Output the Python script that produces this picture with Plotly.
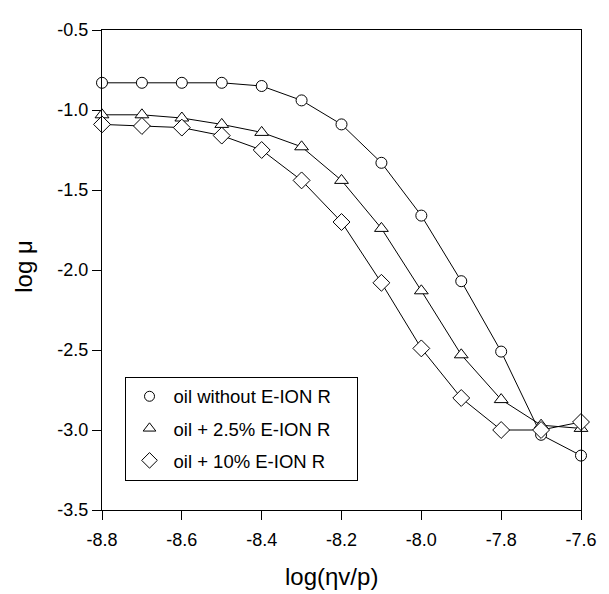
import plotly.graph_objects as go

x_vals = [-8.8, -8.7, -8.6, -8.5, -8.4, -8.3, -8.2, -8.1, -8.0, -7.9, -7.8, -7.7, -7.6]
oil_plain = [-0.83, -0.83, -0.83, -0.83, -0.85, -0.94, -1.09, -1.33, -1.66, -2.07, -2.51, -3.03, -3.16]
oil_25 = [-1.03, -1.03, -1.05, -1.09, -1.14, -1.23, -1.44, -1.74, -2.13, -2.53, -2.81, -2.97, -2.99]
oil_10 = [-1.09, -1.10, -1.11, -1.16, -1.25, -1.44, -1.70, -2.08, -2.49, -2.80, -3.00, -3.00, -2.95]

series_names = ["oil without E-ION R", "oil + 2.5% E-ION R", "oil + 10% E-ION R"]
symbols = ["circle", "triangle-up", "diamond"]

x_ticks = [-8.8, -8.6, -8.4, -8.2, -8.0, -7.8, -7.6]
x_ticklabels = ["-8.8", "-8.6", "-8.4", "-8.2", "-8.0", "-7.8", "-7.6"]
y_ticks = [-3.5, -3.0, -2.5, -2.0, -1.5, -1.0, -0.5]
y_ticklabels = ["-3.5", "-3.0", "-2.5", "-2.0", "-1.5", "-1.0", "-0.5"]
x_title = "log(ηv/p)"
y_title = "log μ"

fig = go.Figure()
sizes = [11, 12, 13]
legend_sizes = [10, 11, 12]
for i, (name, ys) in enumerate(zip(series_names, [oil_plain, oil_25, oil_10])):
    fig.add_trace(go.Scatter(
        x=x_vals, y=ys, name=name, mode="lines+markers",
        line=dict(color="black", width=1),
        marker=dict(symbol=symbols[i], size=sizes[i], color="white",
                    line=dict(color="black", width=1)),
        cliponaxis=False, showlegend=False,
    ))
for i, name in enumerate(series_names):
    label = name + ("\u00a0" * 4 if i == 0 else "")
    fig.add_trace(go.Scatter(
        x=[None], y=[None], name=label, mode="markers",
        marker=dict(symbol=symbols[i], size=legend_sizes[i], color="white",
                    line=dict(color="black", width=1)),
        legendgroup=str(i), showlegend=True,
    ))

font_family = "Liberation Sans, Arial, sans-serif"
# page body has an 8px margin, so the figure is sized to fit inside it
fig.update_layout(
    width=601, height=586,
    margin=dict(l=94, r=18, t=12, b=84),
    paper_bgcolor="white", plot_bgcolor="white",
    font=dict(family=font_family, color="black", size=17),
    showlegend=True,
    legend=dict(
        x=0.047, y=0.2776, xanchor="left", yanchor="top",
        bordercolor="black", borderwidth=1, bgcolor="white",
        font=dict(size=18.5), tracegroupgap=5, itemsizing="trace", itemwidth=38,
    ),
    xaxis=dict(
        range=[-8.8, -7.6], tickvals=x_ticks, ticktext=x_ticklabels,
        showline=True, linecolor="black", linewidth=1, mirror=True,
        ticks="outside", ticklen=9, tickcolor="black", showgrid=False, zeroline=False,
        tickfont=dict(size=18), ticklabelstandoff=4,
    ),
    yaxis=dict(
        range=[-3.5, -0.5], tickvals=y_ticks, ticktext=y_ticklabels,
        showline=True, linecolor="black", linewidth=1, mirror=True,
        ticks="outside", ticklen=9, tickcolor="black", showgrid=False, zeroline=False,
        tickfont=dict(size=18),
    ),
    annotations=[
        dict(text=x_title, xref="paper", yref="paper", x=0.48, y=-0.1388,
             xanchor="center", yanchor="middle", showarrow=False,
             font=dict(size=24)),
        dict(text=y_title, xref="paper", yref="paper", x=-0.1636, y=0.508,
             xanchor="center", yanchor="middle", showarrow=False, textangle=-90,
             font=dict(size=24)),
    ],
)

fig.write_html("out.html")
